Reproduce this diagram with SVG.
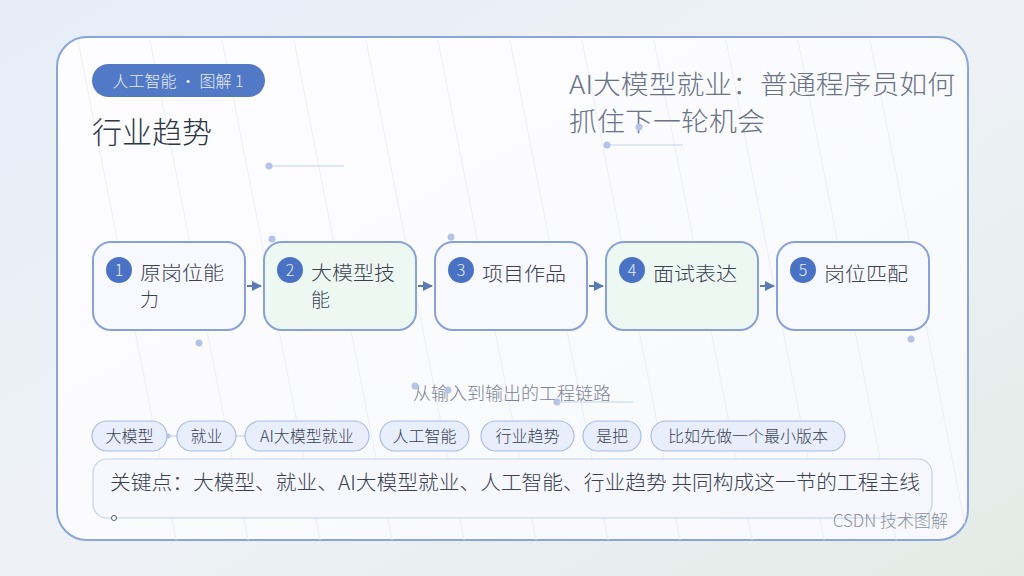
<svg xmlns="http://www.w3.org/2000/svg" width="1024" height="576" viewBox="0 0 1024 576">
<defs>
<linearGradient id="bg" x1="0" y1="0" x2="1" y2="1">
<stop offset="0" stop-color="#e6edf7"/>
<stop offset="0.5" stop-color="#eef2f7"/>
<stop offset="1" stop-color="#e4ebe6"/>
</linearGradient>
<linearGradient id="card" x1="0" y1="0" x2="1" y2="1">
<stop offset="0" stop-color="#fdfdff"/>
<stop offset="1" stop-color="#f8f9fc"/>
</linearGradient>
<clipPath id="cardclip"><rect x="57" y="37" width="911" height="503" rx="30"/></clipPath>
<marker id="arr" viewBox="0 0 10 10" refX="9" refY="5" markerWidth="5" markerHeight="5" orient="auto">
<path d="M0,0 L10,5 L0,10 z" fill="#5b7bb5"/>
</marker>
<style>
.cjk{font-family:"Noto Sans CJK SC","Noto Sans",sans-serif;font-weight:300;}
.node{fill:#f8f9fe;stroke:#88a2d8;stroke-width:2;}
.node.alt{fill:#eef8f2;}
.num{fill:#4a72c4;}
.numt{fill:#e8eefa;font-size:16px;text-anchor:middle;}
.lbl{fill:#3a4050;font-size:19px;}
.tag{fill:#e8eefc;stroke:#a9bde6;stroke-width:1.2;}
.tagt{fill:#3a4050;font-size:16px;text-anchor:middle;}
.deco{fill:#b4c4e8;}
.dline{stroke:#c6d2ea;stroke-width:1.2;}
.stripe{stroke:#eceff5;stroke-width:1;}
</style>
</defs>
<rect width="1024" height="576" fill="url(#bg)"/>
<g id="card">
<rect x="57" y="37" width="911" height="503" rx="30" fill="url(#card)" stroke="#8aa5da" stroke-width="2"/>
<g clip-path="url(#cardclip)">
<line class="stripe" x1="78" y1="40" x2="180" y2="560"/>
<line class="stripe" x1="150" y1="40" x2="252" y2="560"/>
<line class="stripe" x1="222" y1="40" x2="324" y2="560"/>
<line class="stripe" x1="294" y1="40" x2="396" y2="560"/>
<line class="stripe" x1="366" y1="40" x2="468" y2="560"/>
<line class="stripe" x1="438" y1="40" x2="540" y2="560"/>
<line class="stripe" x1="510" y1="40" x2="612" y2="560"/>
<line class="stripe" x1="582" y1="40" x2="684" y2="560"/>
<line class="stripe" x1="654" y1="40" x2="756" y2="560"/>
<line class="stripe" x1="726" y1="40" x2="828" y2="560"/>
<line class="stripe" x1="798" y1="40" x2="900" y2="560"/>
<line class="stripe" x1="870" y1="40" x2="972" y2="560"/>
</g>
</g>
<g id="header">
<rect x="92" y="64" width="173" height="33" rx="16.5" fill="#5279c6"/>
<text class="cjk" x="178" y="87" font-size="16" fill="#e6ecfa" text-anchor="middle">人工智能 · 图解 1</text>
<text class="cjk" x="92" y="143" font-size="30" fill="#2f3645">行业趋势</text>
<text class="cjk" x="569" y="94" font-size="26" fill="#6b7387" textLength="386" lengthAdjust="spacingAndGlyphs">AI大模型就业：普通程序员如何</text>
<text class="cjk" x="569" y="131" font-size="26" fill="#6b7387" textLength="196" lengthAdjust="spacingAndGlyphs">抓住下一轮机会</text>
</g>
<g id="connectors" stroke="#5b7bb5" stroke-width="2" fill="none">
<line x1="247" y1="286" x2="261" y2="286" marker-end="url(#arr)"/>
<line x1="418" y1="286" x2="432" y2="286" marker-end="url(#arr)"/>
<line x1="589" y1="286" x2="603" y2="286" marker-end="url(#arr)"/>
<line x1="760" y1="286" x2="774" y2="286" marker-end="url(#arr)"/>
</g>
<g id="node1">
<rect class="node" x="93" y="242" width="152" height="88" rx="18"/>
<circle class="num" cx="119" cy="270" r="13"/>
<text class="cjk numt" x="119" y="276">1</text>
<text class="cjk lbl" x="140" y="280" textLength="84" lengthAdjust="spacingAndGlyphs">原岗位能</text>
<text class="cjk lbl" x="140" y="307">力</text>
</g>
<g id="node2">
<rect class="node alt" x="264" y="242" width="152" height="88" rx="18"/>
<circle class="num" cx="290" cy="270" r="13"/>
<text class="cjk numt" x="290" y="276">2</text>
<text class="cjk lbl" x="311" y="280" textLength="84" lengthAdjust="spacingAndGlyphs">大模型技</text>
<text class="cjk lbl" x="311" y="307">能</text>
</g>
<g id="node3">
<rect class="node" x="435" y="242" width="152" height="88" rx="18"/>
<circle class="num" cx="461" cy="270" r="13"/>
<text class="cjk numt" x="461" y="276">3</text>
<text class="cjk lbl" x="482" y="281" textLength="84" lengthAdjust="spacingAndGlyphs">项目作品</text>
</g>
<g id="node4">
<rect class="node alt" x="606" y="242" width="152" height="88" rx="18"/>
<circle class="num" cx="632" cy="270" r="13"/>
<text class="cjk numt" x="632" y="276">4</text>
<text class="cjk lbl" x="653" y="281" textLength="84" lengthAdjust="spacingAndGlyphs">面试表达</text>
</g>
<g id="node5">
<rect class="node" x="777" y="242" width="152" height="88" rx="18"/>
<circle class="num" cx="803" cy="270" r="13"/>
<text class="cjk numt" x="803" y="276">5</text>
<text class="cjk lbl" x="824" y="281" textLength="84" lengthAdjust="spacingAndGlyphs">岗位匹配</text>
</g>
<g id="caption">
<text class="cjk" x="512" y="400" font-size="18" fill="#7a8296" text-anchor="middle">从输入到输出的工程链路</text>
</g>
<g id="tags">
<line class="dline" x1="167" y1="436" x2="177" y2="436"/>
<circle class="deco" cx="168" cy="436" r="2.5"/>
<line class="dline" x1="236" y1="436" x2="245" y2="436"/>
<rect class="tag" x="92" y="421" width="75" height="30" rx="15"/>
<text class="cjk tagt" x="129.5" y="442">大模型</text>
<rect class="tag" x="177" y="421" width="59" height="30" rx="15"/>
<text class="cjk tagt" x="206.5" y="442">就业</text>
<rect class="tag" x="245" y="421" width="124" height="30" rx="15"/>
<text class="cjk tagt" x="307" y="442">AI大模型就业</text>
<rect class="tag" x="380" y="421" width="89" height="30" rx="15"/>
<text class="cjk tagt" x="424.5" y="442">人工智能</text>
<rect class="tag" x="481" y="421" width="93" height="30" rx="15"/>
<text class="cjk tagt" x="527.5" y="442">行业趋势</text>
<rect class="tag" x="583" y="421" width="58" height="30" rx="15"/>
<text class="cjk tagt" x="612" y="442">是把</text>
<rect class="tag" x="651" y="421" width="194" height="30" rx="15"/>
<text class="cjk tagt" x="748" y="442">比如先做一个最小版本</text>
</g>
<g id="keypoint">
<rect x="93" y="459" width="839" height="59" rx="14" fill="#f6f8fd" stroke="#c2d0ee" stroke-width="1.2"/>
<text class="cjk" x="110" y="490" font-size="20" fill="#3a4050" textLength="810" lengthAdjust="spacingAndGlyphs">关键点：大模型、就业、AI大模型就业、人工智能、行业趋势 共同构成这一节的工程主线</text>
</g>
<g id="decor">
<line class="dline" x1="269" y1="166" x2="344" y2="166"/>
<circle class="deco" cx="269" cy="166" r="3.5"/>
<line class="dline" x1="607" y1="145" x2="683" y2="145"/>
<circle class="deco" cx="607" cy="145" r="3.5"/>
<circle class="deco" cx="639" cy="127" r="3.5"/>
<circle class="deco" cx="272" cy="239" r="3.5"/>
<circle class="deco" cx="199" cy="343" r="3.5"/>
<circle class="deco" cx="451" cy="237" r="3.5"/>
<circle class="deco" cx="911" cy="339" r="3.5"/>
<circle class="deco" cx="415" cy="386" r="3.5"/>
<circle class="deco" cx="448" cy="390" r="3.5"/>
<circle class="deco" cx="557" cy="402" r="3.5"/>
<line class="dline" x1="557" y1="402" x2="633" y2="402"/>
<circle cx="114" cy="518" r="2.5" fill="#ffffff" stroke="#4a5570" stroke-width="1"/>
</g>
<g id="footer">
<text class="cjk" x="948" y="527" font-size="17" fill="#8a92a4" text-anchor="end">CSDN 技术图解</text>
</g>
</svg>
